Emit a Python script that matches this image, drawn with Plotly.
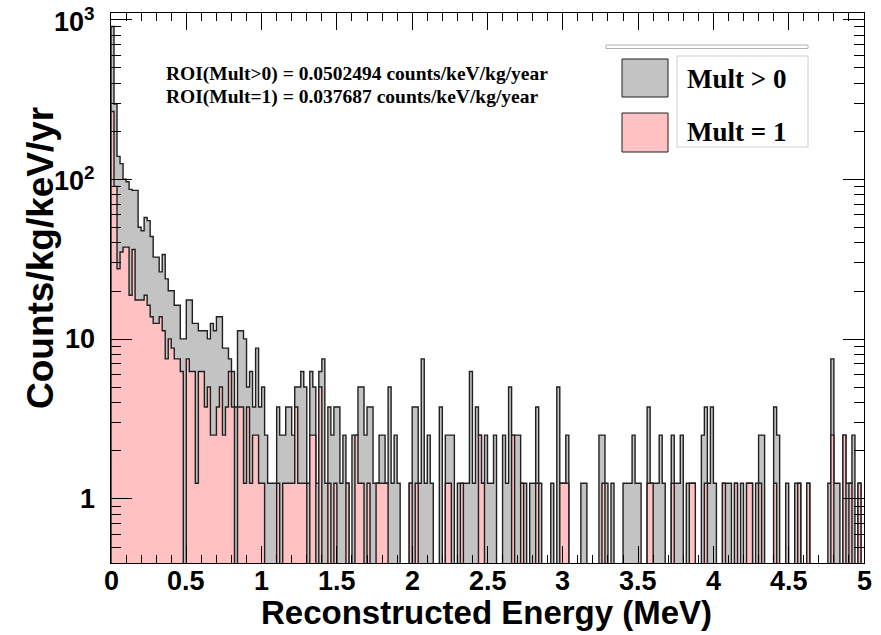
import numpy as np
import plotly.graph_objects as go

# ---------------- data ----------------
E_MIN, E_MAX, N_BINS = 0.0, 5.0, 250          # MeV, 20 keV bins
UNIT = 1.255                                   # counts/kg/keV/yr for one event in a bin

# events per bin, Mult > 0
mult_all = [
    722, 236, 111, 100, 80, 77, 69, 68, 68, 40, 38, 46, 44, 35, 26, 26, 21, 27, 19, 16, 16, 13, 13, 8, 8,
    14, 14, 10, 10, 9, 9, 9, 8, 10, 9, 11, 11, 7, 7, 6, 5, 3, 9, 9, 8, 4, 5, 3, 7, 3,
    4, 2, 1, 1, 1, 3, 2, 2, 3, 3, 2, 4, 4, 5, 4, 1, 5, 4, 1, 5, 6, 1, 3, 2, 3,
    3, 1, 2, 1, 0, 2, 2, 4, 4, 2, 3, 3, 1, 1, 2, 2, 1, 4, 1, 2, 1, 0, 0, 0, 1,
    3, 3, 1, 6, 1, 2, 1, 0, 0, 3, 0, 2, 2, 2, 0, 1, 1, 1, 1, 5, 1, 3, 2, 1, 2,
    1, 1, 2, 0, 0, 2, 1, 4, 2, 2, 2, 1, 1, 0, 1, 1, 3, 1, 0, 0, 0, 1, 0, 4, 1,
    1, 2, 0, 0, 0, 0, 1, 1, 0, 0, 0, 0, 2, 2, 1, 0, 1, 0, 0, 0, 1, 1, 1, 2, 1,
    1, 0, 0, 3, 1, 1, 1, 2, 1, 0, 0, 2, 1, 1, 2, 0, 1, 1, 1, 0, 0, 2, 3, 1, 3,
    1, 0, 0, 1, 1, 1, 0, 1, 0, 1, 0, 1, 1, 0, 1, 2, 2, 0, 0, 0, 3, 2, 0, 0, 1,
    0, 0, 1, 1, 0, 0, 1, 0, 0, 0, 0, 0, 0, 1, 6, 1, 1, 0, 2, 1, 1, 2, 0, 1, 0,
]

# events per bin, Mult = 1
mult_one = [
    212, 72, 22, 28, 30, 30, 15, 29, 14, 14, 14, 15, 13, 11, 10, 10, 11, 9, 6, 8, 7, 6, 6, 5, 0,
    6, 5, 5, 1, 5, 5, 3, 4, 2, 2, 3, 4, 2, 3, 5, 3, 0, 3, 3, 1, 3, 1, 2, 2, 1,
    1, 0, 0, 0, 0, 1, 0, 1, 1, 1, 1, 3, 1, 1, 1, 0, 2, 2, 0, 4, 0, 0, 1, 0, 1,
    0, 0, 0, 1, 0, 0, 2, 1, 1, 0, 1, 0, 0, 1, 1, 1, 1, 0, 0, 0, 0, 0, 0, 0, 1,
    0, 1, 0, 0, 0, 0, 0, 0, 0, 0, 0, 1, 1, 0, 0, 0, 1, 0, 0, 0, 0, 0, 2, 1, 0,
    0, 0, 0, 0, 0, 0, 0, 0, 2, 0, 0, 1, 0, 0, 0, 0, 1, 0, 0, 0, 0, 0, 0, 0, 1,
    1, 1, 0, 0, 0, 0, 0, 0, 0, 0, 0, 0, 0, 1, 0, 0, 0, 0, 0, 0, 0, 0, 0, 0, 0,
    0, 0, 0, 1, 1, 0, 0, 0, 0, 0, 0, 1, 0, 0, 0, 0, 0, 1, 1, 0, 0, 0, 1, 0, 0,
    0, 0, 0, 1, 0, 0, 0, 1, 0, 0, 0, 1, 1, 0, 0, 1, 0, 0, 0, 0, 1, 0, 0, 0, 0,
    0, 0, 0, 1, 0, 0, 1, 0, 0, 0, 0, 0, 0, 0, 2, 0, 0, 0, 2, 0, 1, 0, 0, 1, 0,
]

series_names = ["Mult > 0", "Mult = 1"]
roi_lines = [
    "ROI(Mult>0) = 0.0502494 counts/keV/kg/year",
    "ROI(Mult=1) = 0.037687 counts/keV/kg/year",
]
x_ticks = [0, 0.5, 1, 1.5, 2, 2.5, 3, 3.5, 4, 4.5, 5]
x_ticktext = ["0", "0.5", "1", "1.5", "2", "2.5", "3", "3.5", "4", "4.5", "5"]
y_ticks = [1, 10, 100, 1000]
y_ticktext = ["1", "10", "10<sup>2</sup>", "10<sup>3</sup>"]

# ---------------- helpers ----------------
edges = np.linspace(E_MIN, E_MAX, N_BINS + 1)
FLOOR = 1e-2   # below the visible range: empty bins drop to the frame


def step_polygon(counts):
    xs, ys = [edges[0]], [FLOOR]
    for i, c in enumerate(counts):
        v = c * UNIT if c > 0 else FLOOR
        xs += [edges[i], edges[i + 1]]
        ys += [v, v]
    xs.append(edges[-1])
    ys.append(FLOOR)
    return xs, ys


GRAY = "#c3c3c3"
PINK = "#ffc1c1"
EDGE = "#202020"

fig = go.Figure()
for counts, fill, name in [(mult_all, GRAY, series_names[0]), (mult_one, PINK, series_names[1])]:
    xs, ys = step_polygon(counts)
    fig.add_trace(go.Scatter(
        x=xs, y=ys, mode="lines", fill="toself", fillcolor=fill,
        line=dict(color=EDGE, width=1.4), name=name, showlegend=False,
        hoverinfo="skip",
    ))

W, H = 881, 635
L, R, T, B = 111, 17, 13, 72
pw, ph = W - L - R, H - T - B


def px(x):
    return (x - L) / pw


def py(y):
    return (H - B - y) / ph


labfont = dict(family="Liberation Sans", size=27, color="black", weight="bold")

minor_y = [m * 10 ** d for d in range(-1, 4) for m in range(2, 10)]

fig.update_layout(
    width=W, height=H,
    margin=dict(l=L, r=R, t=T, b=B),
    paper_bgcolor="white", plot_bgcolor="white",
    xaxis=dict(
        range=[E_MIN, E_MAX], tickmode="array", tickvals=x_ticks, showticklabels=False,
        ticks="inside", ticklen=17, tickwidth=1, tickcolor="black",
        minor=dict(ticks="inside", ticklen=8, dtick=0.1, tick0=0, tickcolor="black", tickwidth=1),
        showline=True, linecolor="black", linewidth=1, mirror="ticks",
        showgrid=False, zeroline=False,
    ),
    yaxis=dict(
        type="log", range=[-0.4008, 3.0413], tickmode="array", tickvals=y_ticks, showticklabels=False,
        ticks="inside", ticklen=21, tickwidth=1, tickcolor="black",
        minor=dict(ticks="inside", ticklen=10, tickmode="array", tickvals=minor_y,
                   tickcolor="black", tickwidth=1),
        showline=True, linecolor="black", linewidth=1, mirror="ticks",
        showgrid=False, zeroline=False,
    ),
    showlegend=False,
)

# tick labels placed at the axis values
for v, t in zip(x_ticks, x_ticktext):
    fig.add_annotation(text=t, xref="x", yref="paper", x=v, y=py(581),
                       xanchor="center", yanchor="middle", showarrow=False, font=labfont)
for v, t in zip(y_ticks, y_ticktext):
    fig.add_annotation(text=t, xref="paper", yref="y", x=px(97), y=np.log10(v),
                       xanchor="right", yanchor="middle", showarrow=False, font=labfont)

# axis titles (ROOT style: y title toward the top end)
fig.add_annotation(text="Reconstructed Energy (MeV)", xref="paper", yref="paper",
                   x=px(486.5), y=py(612), xanchor="center", yanchor="middle", showarrow=False,
                   font=dict(family="Liberation Sans", size=33, color="black", weight="bold"))
fig.add_annotation(text="Counts/kg/keV/yr", xref="paper", yref="paper", textangle=-90,
                   x=px(40), y=py(258), xanchor="center", yanchor="middle", showarrow=False,
                   font=dict(family="Liberation Sans", size=37, color="black", weight="bold"))

# ROI text
for line, yc in zip(roi_lines, [74, 97]):
    fig.add_annotation(text=line, xref="paper", yref="paper", x=px(164), y=py(yc),
                       xanchor="left", yanchor="middle", showarrow=False,
                       font=dict(family="Liberation Serif", size=19.5, color="black", weight="bold"))

# legend (ROOT TLegend look)
fig.add_shape(type="rect", xref="paper", yref="paper", x0=px(606), x1=px(808), y0=py(48.5), y1=py(45),
              line=dict(color="#b0b0b0", width=1), fillcolor="white")
fig.add_shape(type="rect", xref="paper", yref="paper", x0=px(677), x1=px(808), y0=py(147), y1=py(56),
              line=dict(color="#cfcfcf", width=1), fillcolor="white")
for (y0, y1), fill, name, yc in [((97, 59), GRAY, series_names[0], 79), ((152, 113), PINK, series_names[1], 132)]:
    fig.add_shape(type="rect", xref="paper", yref="paper", x0=px(622), x1=px(668), y0=py(y0), y1=py(y1),
                  line=dict(color=EDGE, width=1), fillcolor=fill)
    fig.add_annotation(text=name, xref="paper", yref="paper", x=px(685), y=py(yc),
                       xanchor="left", yanchor="middle", showarrow=False,
                       font=dict(family="Liberation Serif", size=27, color="black", weight="bold"))

fig.write_html("out.html")
